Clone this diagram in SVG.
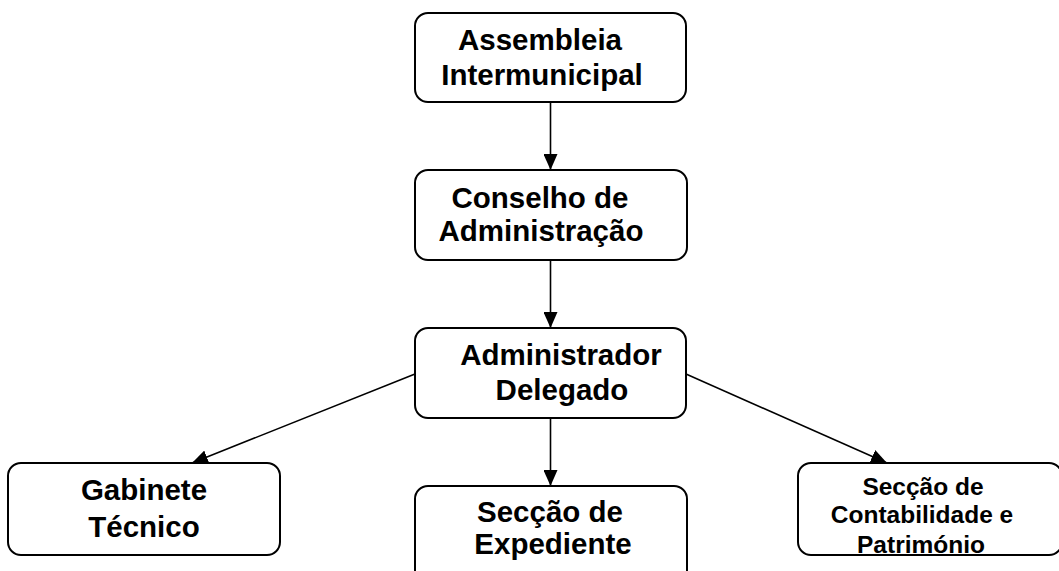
<svg xmlns="http://www.w3.org/2000/svg" width="1059" height="571" viewBox="0 0 1059 571">
<style>
.box{fill:#fff;stroke:#000;stroke-width:2}
.t{font-family:"Liberation Sans",Arial,sans-serif;font-weight:bold;font-size:29.5px;fill:#000;text-anchor:middle}
.s{font-size:24.5px}
.c{stroke:#000;stroke-width:1.6;fill:none;marker-end:url(#ah)}
</style>
<defs>
<marker id="ah" markerUnits="userSpaceOnUse" markerWidth="16" markerHeight="14" viewBox="0 0 16 14" refX="16" refY="7" orient="auto">
<path d="M0,0 L16,7 L0,14 Z" fill="#000"/>
</marker>
</defs>
<rect width="1059" height="571" fill="#fff"/>
<g id="connectors">
<line class="c" x1="550.5" y1="103" x2="550.5" y2="170"/>
<line class="c" x1="550.5" y1="261" x2="550.5" y2="328"/>
<line class="c" x1="415" y1="374" x2="192" y2="463"/>
<line class="c" x1="550.5" y1="418" x2="550.5" y2="486"/>
<line class="c" x1="686" y1="374" x2="887" y2="463"/>
</g>
<g id="assembleia">
<rect class="box" x="415" y="13" width="271" height="89" rx="13"/>
<text class="t" x="540" y="50">Assembleia</text>
<text class="t" x="542" y="85">Intermunicipal</text>
</g>
<g id="conselho">
<rect class="box" x="415" y="170" width="272" height="90" rx="13"/>
<text class="t" x="540" y="208">Conselho de</text>
<text class="t" x="541" y="241">Administração</text>
</g>
<g id="administrador">
<rect class="box" x="415" y="328" width="271" height="90" rx="13"/>
<text class="t" x="561" y="365">Administrador</text>
<text class="t" x="562" y="400">Delegado</text>
</g>
<g id="gabinete">
<rect class="box" x="8" y="463" width="272" height="92" rx="13"/>
<text class="t" x="144" y="500">Gabinete</text>
<text class="t" x="144" y="537">Técnico</text>
</g>
<g id="expediente">
<rect class="box" x="415" y="486" width="272" height="110" rx="13"/>
<text class="t" x="550" y="522">Secção de</text>
<text class="t" x="553" y="554">Expediente</text>
</g>
<g id="contabilidade">
<rect class="box" x="798" y="463" width="264" height="92" rx="13"/>
<text class="t s" x="923" y="495">Secção de</text>
<text class="t s" x="922" y="523">Contabilidade e</text>
<text class="t s" x="921" y="553">Património</text>
</g>
</svg>
